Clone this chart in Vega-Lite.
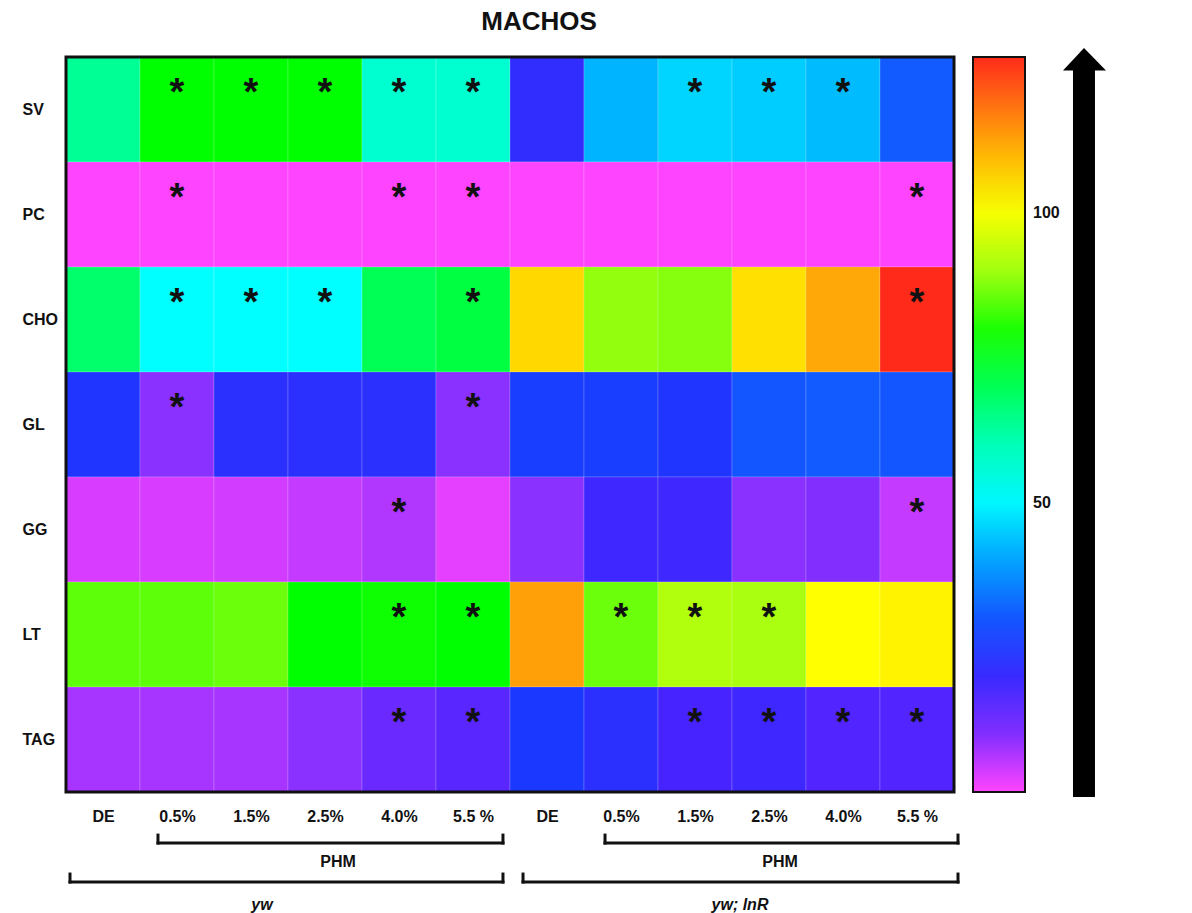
{
  "$schema": "https://vega.github.io/schema/vega-lite/v6.json",
  "width": 888,
  "height": 856,
  "autosize": {"type": "none"},
  "padding": {"left": 66, "top": 57, "right": 238, "bottom": 0},
  "background": "white",
  "config": {"view": {"stroke": null}, "font": "Liberation Sans"},
  "title": {"text": "MACHOS", "fontSize": 26, "fontWeight": "bold", "font": "Liberation Sans", "color": "#111111", "anchor": "middle", "dx": 29, "offset": 13},
  "datasets": {
    "cells": [
      {"row": "SV", "grupo": "yw", "dosis": "DE", "c": 0, "r": 6, "v": 64, "sig": ""},
      {"row": "SV", "grupo": "yw", "dosis": "0.5%", "c": 1, "r": 6, "v": 78, "sig": "*"},
      {"row": "SV", "grupo": "yw", "dosis": "1.5%", "c": 2, "r": 6, "v": 78, "sig": "*"},
      {"row": "SV", "grupo": "yw", "dosis": "2.5%", "c": 3, "r": 6, "v": 78, "sig": "*"},
      {"row": "SV", "grupo": "yw", "dosis": "4.0%", "c": 4, "r": 6, "v": 57, "sig": "*"},
      {"row": "SV", "grupo": "yw", "dosis": "5.5 %", "c": 5, "r": 6, "v": 57, "sig": "*"},
      {"row": "SV", "grupo": "yw; lnR", "dosis": "DE", "c": 6, "r": 6, "v": 21, "sig": ""},
      {"row": "SV", "grupo": "yw; lnR", "dosis": "0.5%", "c": 7, "r": 6, "v": 42, "sig": ""},
      {"row": "SV", "grupo": "yw; lnR", "dosis": "1.5%", "c": 8, "r": 6, "v": 46, "sig": "*"},
      {"row": "SV", "grupo": "yw; lnR", "dosis": "2.5%", "c": 9, "r": 6, "v": 45, "sig": "*"},
      {"row": "SV", "grupo": "yw; lnR", "dosis": "4.0%", "c": 10, "r": 6, "v": 43, "sig": "*"},
      {"row": "SV", "grupo": "yw; lnR", "dosis": "5.5 %", "c": 11, "r": 6, "v": 31, "sig": ""},
      {"row": "PC", "grupo": "yw", "dosis": "DE", "c": 0, "r": 5, "v": 0, "sig": ""},
      {"row": "PC", "grupo": "yw", "dosis": "0.5%", "c": 1, "r": 5, "v": 0, "sig": "*"},
      {"row": "PC", "grupo": "yw", "dosis": "1.5%", "c": 2, "r": 5, "v": 0, "sig": ""},
      {"row": "PC", "grupo": "yw", "dosis": "2.5%", "c": 3, "r": 5, "v": 0, "sig": ""},
      {"row": "PC", "grupo": "yw", "dosis": "4.0%", "c": 4, "r": 5, "v": 0, "sig": "*"},
      {"row": "PC", "grupo": "yw", "dosis": "5.5 %", "c": 5, "r": 5, "v": 0, "sig": "*"},
      {"row": "PC", "grupo": "yw; lnR", "dosis": "DE", "c": 6, "r": 5, "v": 0, "sig": ""},
      {"row": "PC", "grupo": "yw; lnR", "dosis": "0.5%", "c": 7, "r": 5, "v": 0, "sig": ""},
      {"row": "PC", "grupo": "yw; lnR", "dosis": "1.5%", "c": 8, "r": 5, "v": 0, "sig": ""},
      {"row": "PC", "grupo": "yw; lnR", "dosis": "2.5%", "c": 9, "r": 5, "v": 0, "sig": ""},
      {"row": "PC", "grupo": "yw; lnR", "dosis": "4.0%", "c": 10, "r": 5, "v": 0, "sig": ""},
      {"row": "PC", "grupo": "yw; lnR", "dosis": "5.5 %", "c": 11, "r": 5, "v": 0, "sig": "*"},
      {"row": "CHO", "grupo": "yw", "dosis": "DE", "c": 0, "r": 4, "v": 68, "sig": ""},
      {"row": "CHO", "grupo": "yw", "dosis": "0.5%", "c": 1, "r": 4, "v": 51, "sig": "*"},
      {"row": "CHO", "grupo": "yw", "dosis": "1.5%", "c": 2, "r": 4, "v": 51, "sig": "*"},
      {"row": "CHO", "grupo": "yw", "dosis": "2.5%", "c": 3, "r": 4, "v": 51, "sig": "*"},
      {"row": "CHO", "grupo": "yw", "dosis": "4.0%", "c": 4, "r": 4, "v": 70, "sig": ""},
      {"row": "CHO", "grupo": "yw", "dosis": "5.5 %", "c": 5, "r": 4, "v": 72, "sig": "*"},
      {"row": "CHO", "grupo": "yw; lnR", "dosis": "DE", "c": 6, "r": 4, "v": 106, "sig": ""},
      {"row": "CHO", "grupo": "yw; lnR", "dosis": "0.5%", "c": 7, "r": 4, "v": 89, "sig": ""},
      {"row": "CHO", "grupo": "yw; lnR", "dosis": "1.5%", "c": 8, "r": 4, "v": 88, "sig": ""},
      {"row": "CHO", "grupo": "yw; lnR", "dosis": "2.5%", "c": 9, "r": 4, "v": 105, "sig": ""},
      {"row": "CHO", "grupo": "yw; lnR", "dosis": "4.0%", "c": 10, "r": 4, "v": 112, "sig": ""},
      {"row": "CHO", "grupo": "yw; lnR", "dosis": "5.5 %", "c": 11, "r": 4, "v": 127, "sig": "*"},
      {"row": "GL", "grupo": "yw", "dosis": "DE", "c": 0, "r": 3, "v": 24, "sig": ""},
      {"row": "GL", "grupo": "yw", "dosis": "0.5%", "c": 1, "r": 3, "v": 9, "sig": "*"},
      {"row": "GL", "grupo": "yw", "dosis": "1.5%", "c": 2, "r": 3, "v": 22, "sig": ""},
      {"row": "GL", "grupo": "yw", "dosis": "2.5%", "c": 3, "r": 3, "v": 22, "sig": ""},
      {"row": "GL", "grupo": "yw", "dosis": "4.0%", "c": 4, "r": 3, "v": 22, "sig": ""},
      {"row": "GL", "grupo": "yw", "dosis": "5.5 %", "c": 5, "r": 3, "v": 9, "sig": "*"},
      {"row": "GL", "grupo": "yw; lnR", "dosis": "DE", "c": 6, "r": 3, "v": 26, "sig": ""},
      {"row": "GL", "grupo": "yw; lnR", "dosis": "0.5%", "c": 7, "r": 3, "v": 26, "sig": ""},
      {"row": "GL", "grupo": "yw; lnR", "dosis": "1.5%", "c": 8, "r": 3, "v": 24, "sig": ""},
      {"row": "GL", "grupo": "yw; lnR", "dosis": "2.5%", "c": 9, "r": 3, "v": 30, "sig": ""},
      {"row": "GL", "grupo": "yw; lnR", "dosis": "4.0%", "c": 10, "r": 3, "v": 31, "sig": ""},
      {"row": "GL", "grupo": "yw; lnR", "dosis": "5.5 %", "c": 11, "r": 3, "v": 30, "sig": ""},
      {"row": "GG", "grupo": "yw", "dosis": "DE", "c": 0, "r": 2, "v": 3, "sig": ""},
      {"row": "GG", "grupo": "yw", "dosis": "0.5%", "c": 1, "r": 2, "v": 3, "sig": ""},
      {"row": "GG", "grupo": "yw", "dosis": "1.5%", "c": 2, "r": 2, "v": 3.5, "sig": ""},
      {"row": "GG", "grupo": "yw", "dosis": "2.5%", "c": 3, "r": 2, "v": 4.5, "sig": ""},
      {"row": "GG", "grupo": "yw", "dosis": "4.0%", "c": 4, "r": 2, "v": 6, "sig": "*"},
      {"row": "GG", "grupo": "yw", "dosis": "5.5 %", "c": 5, "r": 2, "v": 2, "sig": ""},
      {"row": "GG", "grupo": "yw; lnR", "dosis": "DE", "c": 6, "r": 2, "v": 9, "sig": ""},
      {"row": "GG", "grupo": "yw; lnR", "dosis": "0.5%", "c": 7, "r": 2, "v": 19, "sig": ""},
      {"row": "GG", "grupo": "yw; lnR", "dosis": "1.5%", "c": 8, "r": 2, "v": 19, "sig": ""},
      {"row": "GG", "grupo": "yw; lnR", "dosis": "2.5%", "c": 9, "r": 2, "v": 9, "sig": ""},
      {"row": "GG", "grupo": "yw; lnR", "dosis": "4.0%", "c": 10, "r": 2, "v": 10, "sig": ""},
      {"row": "GG", "grupo": "yw; lnR", "dosis": "5.5 %", "c": 11, "r": 2, "v": 4.5, "sig": "*"},
      {"row": "LT", "grupo": "yw", "dosis": "DE", "c": 0, "r": 1, "v": 85, "sig": ""},
      {"row": "LT", "grupo": "yw", "dosis": "0.5%", "c": 1, "r": 1, "v": 85, "sig": ""},
      {"row": "LT", "grupo": "yw", "dosis": "1.5%", "c": 2, "r": 1, "v": 86, "sig": ""},
      {"row": "LT", "grupo": "yw", "dosis": "2.5%", "c": 3, "r": 1, "v": 78, "sig": ""},
      {"row": "LT", "grupo": "yw", "dosis": "4.0%", "c": 4, "r": 1, "v": 79, "sig": "*"},
      {"row": "LT", "grupo": "yw", "dosis": "5.5 %", "c": 5, "r": 1, "v": 78, "sig": "*"},
      {"row": "LT", "grupo": "yw; lnR", "dosis": "DE", "c": 6, "r": 1, "v": 113, "sig": ""},
      {"row": "LT", "grupo": "yw; lnR", "dosis": "0.5%", "c": 7, "r": 1, "v": 86, "sig": "*"},
      {"row": "LT", "grupo": "yw; lnR", "dosis": "1.5%", "c": 8, "r": 1, "v": 92, "sig": "*"},
      {"row": "LT", "grupo": "yw; lnR", "dosis": "2.5%", "c": 9, "r": 1, "v": 91, "sig": "*"},
      {"row": "LT", "grupo": "yw; lnR", "dosis": "4.0%", "c": 10, "r": 1, "v": 101, "sig": ""},
      {"row": "LT", "grupo": "yw; lnR", "dosis": "5.5 %", "c": 11, "r": 1, "v": 102.5, "sig": ""},
      {"row": "TAG", "grupo": "yw", "dosis": "DE", "c": 0, "r": 0, "v": 6.7, "sig": ""},
      {"row": "TAG", "grupo": "yw", "dosis": "0.5%", "c": 1, "r": 0, "v": 6.7, "sig": ""},
      {"row": "TAG", "grupo": "yw", "dosis": "1.5%", "c": 2, "r": 0, "v": 6.7, "sig": ""},
      {"row": "TAG", "grupo": "yw", "dosis": "2.5%", "c": 3, "r": 0, "v": 9, "sig": ""},
      {"row": "TAG", "grupo": "yw", "dosis": "4.0%", "c": 4, "r": 0, "v": 13, "sig": "*"},
      {"row": "TAG", "grupo": "yw", "dosis": "5.5 %", "c": 5, "r": 0, "v": 15, "sig": "*"},
      {"row": "TAG", "grupo": "yw; lnR", "dosis": "DE", "c": 6, "r": 0, "v": 25, "sig": ""},
      {"row": "TAG", "grupo": "yw; lnR", "dosis": "0.5%", "c": 7, "r": 0, "v": 22, "sig": ""},
      {"row": "TAG", "grupo": "yw; lnR", "dosis": "1.5%", "c": 8, "r": 0, "v": 17.5, "sig": "*"},
      {"row": "TAG", "grupo": "yw; lnR", "dosis": "2.5%", "c": 9, "r": 0, "v": 19, "sig": "*"},
      {"row": "TAG", "grupo": "yw; lnR", "dosis": "4.0%", "c": 10, "r": 0, "v": 16, "sig": "*"},
      {"row": "TAG", "grupo": "yw; lnR", "dosis": "5.5 %", "c": 11, "r": 0, "v": 16, "sig": "*"}
    ],
    "frame": [{"x1": -0.5, "x2": 11.5, "y1": -0.5, "y2": 6.5}],
    "brackets": [
      {"x1": 0.743, "x2": 5.405, "y": -0.986, "yt": -0.91},
      {"x1": -0.446, "x2": 5.405, "y": -1.357, "yt": -1.281},
      {"x1": 6.784, "x2": 11.554, "y": -0.986, "yt": -0.91},
      {"x1": 5.676, "x2": 11.554, "y": -1.357, "yt": -1.281}
    ],
    "phm": [
      {"x": 3.176, "y": -1.167, "t": "PHM"},
      {"x": 9.149, "y": -1.167, "t": "PHM"}
    ],
    "groups": [
      {"x": 2.149, "y": -1.576, "t": "yw"},
      {"x": 8.608, "y": -1.576, "t": "yw; lnR"}
    ],
    "shaft": [{"x1": 13.108, "x2": 13.405, "y1": -0.548, "y2": 6.38}],
    "head": [
      {"x": 12.973, "y": 6.372, "yb": 6.372},
      {"x": 13.257, "y": 6.586, "yb": 6.372},
      {"x": 13.554, "y": 6.372, "yb": 6.372}
    ]
  },
  "layer": [
    {
      "data": {"name": "cells"},
      "mark": {"type": "rect", "width": 74, "height": 105, "stroke": "#ffffff", "strokeOpacity": 0.18, "strokeWidth": 1},
      "encoding": {
        "x": {"field": "c", "type": "quantitative", "title": null,
          "scale": {"domain": [-0.5, 11.5], "nice": false, "zero": false},
          "axis": {"orient": "bottom", "offset": -121, "values": [0, 1, 2, 3, 4, 5, 6, 7, 8, 9, 10, 11],
            "labelExpr": "['DE','0.5%','1.5%','2.5%','4.0%','5.5 %','DE','0.5%','1.5%','2.5%','4.0%','5.5 %'][datum.value]",
            "domain": false, "ticks": false, "tickSize": 0, "grid": false, "labelPadding": 16,
            "labelFontSize": 16, "labelFontWeight": "bold", "labelFont": "Liberation Sans", "labelColor": "#111111",
            "labelOverlap": false, "labelFlush": false, "labelBound": false, "title": null}},
        "y": {"field": "r", "type": "quantitative", "title": null,
          "scale": {"domain": [-1.652, 6.5], "nice": false, "zero": false},
          "axis": {"orient": "left", "values": [0, 1, 2, 3, 4, 5, 6],
            "labelExpr": "['TAG','LT','GG','GL','CHO','PC','SV'][datum.value]",
            "domain": false, "ticks": false, "tickSize": 0, "grid": false, "labelAlign": "left", "labelBaseline": "middle", "labelPadding": 44,
            "labelFontSize": 16, "labelFontWeight": "bold", "labelFont": "Liberation Sans", "labelColor": "#111111",
            "labelOverlap": false, "labelFlush": false, "labelBound": false, "title": null}},
        "color": {"field": "v", "type": "quantitative",
          "scale": {"domain": [0, 9, 17, 25, 33, 42, 51, 63, 78, 90, 101, 108, 117, 127],
            "range": ["#ff44ff", "#8a30ff", "#4a22ff", "#1a38ff", "#0f68ff", "#00b4ff", "#00ffff", "#00ffa0", "#00ff00", "#a0ff10", "#ffff00", "#ffc800", "#ff8010", "#ff2a1a"],
            "interpolate": "rgb"},
          "legend": {"orient": "none", "legendX": 907, "legendY": 0, "direction": "vertical", "gradientLength": 735, "gradientThickness": 52,
            "gradientStrokeColor": "#111111", "gradientStrokeWidth": 2, "values": [50, 100], "labelFontSize": 16, "labelFontWeight": "bold",
            "labelFont": "Liberation Sans", "labelColor": "#111111", "labelOffset": 8, "title": null}}
      }
    },
    {
      "data": {"name": "cells"},
      "transform": [{"filter": "datum.sig == '*'"}],
      "mark": {"type": "text", "fontSize": 38, "fontWeight": "bold", "font": "Liberation Sans", "color": "#111111", "baseline": "alphabetic", "align": "center", "dy": -5},
      "encoding": {
        "x": {"field": "c", "type": "quantitative", "title": null, "scale": {"domain": [-0.5, 11.5], "nice": false, "zero": false}},
        "y": {"field": "r", "type": "quantitative", "title": null, "scale": {"domain": [-1.652, 6.5], "nice": false, "zero": false}},
        "text": {"field": "sig"}
      }
    },
    {
      "data": {"name": "frame"},
      "mark": {"type": "rect", "filled": false, "stroke": "#111111", "strokeWidth": 3},
      "encoding": {
        "x": {"field": "x1", "type": "quantitative", "title": null, "scale": {"domain": [-0.5, 11.5], "nice": false, "zero": false}},
        "x2": {"field": "x2"},
        "y": {"field": "y1", "type": "quantitative", "title": null, "scale": {"domain": [-1.652, 6.5], "nice": false, "zero": false}},
        "y2": {"field": "y2"}
      }
    },
    {
      "data": {"name": "brackets"},
      "mark": {"type": "rule", "color": "#111111", "strokeWidth": 3, "strokeCap": "square"},
      "encoding": {
        "x": {"field": "x1", "type": "quantitative", "title": null, "scale": {"domain": [-0.5, 11.5], "nice": false, "zero": false}},
        "x2": {"field": "x2"},
        "y": {"field": "y", "type": "quantitative", "title": null, "scale": {"domain": [-1.652, 6.5], "nice": false, "zero": false}}
      }
    },
    {
      "data": {"name": "brackets"},
      "mark": {"type": "rule", "color": "#111111", "strokeWidth": 3, "strokeCap": "square"},
      "encoding": {
        "x": {"field": "x1", "type": "quantitative", "title": null, "scale": {"domain": [-0.5, 11.5], "nice": false, "zero": false}},
        "y": {"field": "y", "type": "quantitative", "title": null, "scale": {"domain": [-1.652, 6.5], "nice": false, "zero": false}},
        "y2": {"field": "yt"}
      }
    },
    {
      "data": {"name": "brackets"},
      "mark": {"type": "rule", "color": "#111111", "strokeWidth": 3, "strokeCap": "square"},
      "encoding": {
        "x": {"field": "x2", "type": "quantitative", "title": null, "scale": {"domain": [-0.5, 11.5], "nice": false, "zero": false}},
        "y": {"field": "y", "type": "quantitative", "title": null, "scale": {"domain": [-1.652, 6.5], "nice": false, "zero": false}},
        "y2": {"field": "yt"}
      }
    },
    {
      "data": {"name": "phm"},
      "mark": {"type": "text", "fontSize": 16, "fontWeight": "bold", "font": "Liberation Sans", "color": "#111111", "baseline": "middle", "align": "center"},
      "encoding": {
        "x": {"field": "x", "type": "quantitative", "title": null, "scale": {"domain": [-0.5, 11.5], "nice": false, "zero": false}},
        "y": {"field": "y", "type": "quantitative", "title": null, "scale": {"domain": [-1.652, 6.5], "nice": false, "zero": false}},
        "text": {"field": "t"}
      }
    },
    {
      "data": {"name": "groups"},
      "mark": {"type": "text", "fontSize": 16, "fontWeight": "bold", "fontStyle": "italic", "font": "Liberation Sans", "color": "#111111", "baseline": "middle", "align": "center"},
      "encoding": {
        "x": {"field": "x", "type": "quantitative", "title": null, "scale": {"domain": [-0.5, 11.5], "nice": false, "zero": false}},
        "y": {"field": "y", "type": "quantitative", "title": null, "scale": {"domain": [-1.652, 6.5], "nice": false, "zero": false}},
        "text": {"field": "t"}
      }
    },
    {
      "data": {"name": "shaft"},
      "mark": {"type": "rect", "color": "#000000"},
      "encoding": {
        "x": {"field": "x1", "type": "quantitative", "title": null, "scale": {"domain": [-0.5, 11.5], "nice": false, "zero": false}},
        "x2": {"field": "x2"},
        "y": {"field": "y1", "type": "quantitative", "title": null, "scale": {"domain": [-1.652, 6.5], "nice": false, "zero": false}},
        "y2": {"field": "y2"}
      }
    },
    {
      "data": {"name": "head"},
      "mark": {"type": "area", "color": "#000000", "interpolate": "linear"},
      "encoding": {
        "x": {"field": "x", "type": "quantitative", "title": null, "scale": {"domain": [-0.5, 11.5], "nice": false, "zero": false}},
        "y": {"field": "y", "type": "quantitative", "title": null, "scale": {"domain": [-1.652, 6.5], "nice": false, "zero": false}},
        "y2": {"field": "yb"}
      }
    }
  ]
}
